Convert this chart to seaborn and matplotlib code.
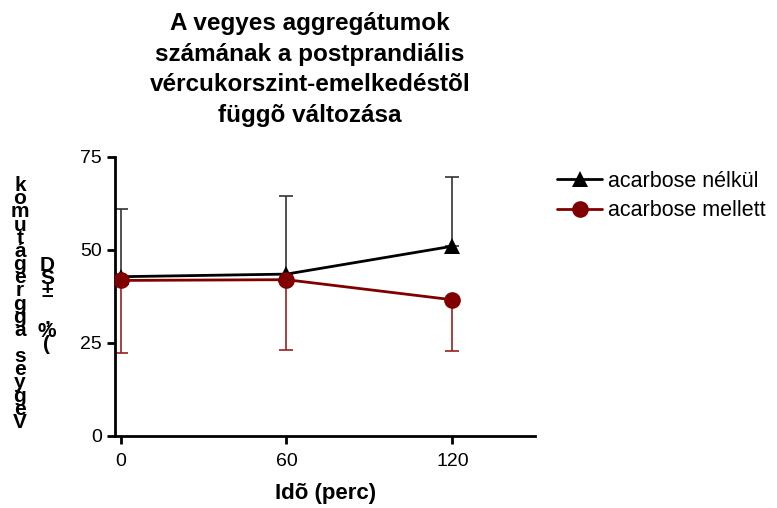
import numpy as np
import pandas as pd
import matplotlib
matplotlib.use("Agg")
import matplotlib.pyplot as plt
import seaborn as sns

sns.set_style("white")
plt.rcParams["font.family"] = ["Liberation Sans", "DejaVu Sans"]
plt.rcParams["text.color"] = "black"
plt.rcParams["axes.labelcolor"] = "black"
plt.rcParams["xtick.color"] = "black"
plt.rcParams["ytick.color"] = "black"

# data
times = [0, 60, 120]
groups = ["acarbose nélkül", "acarbose mellett"]
mean_without = [42.8, 43.5, 51.0]
sd_without = [18.2, 21.0, 18.5]
mean_with = [41.8, 42.0, 36.6]
sd_with = [19.4, 18.9, 13.7]
colors = ["#000000", "#800000"]
markers = ["^", "o"]

df = pd.DataFrame({
    "ido": times * 2,
    "ertek": mean_without + mean_with,
    "csoport": [groups[0]] * 3 + [groups[1]] * 3,
})

W, H = 777, 508
fig = plt.figure(figsize=(W / 100, H / 100), dpi=100)
ax = fig.add_axes([0.148, 0.142, 0.541, 0.549])

# one-sided SD bars: upper for the first group, lower for the second
ax.errorbar(times, mean_without, yerr=[np.zeros(3), sd_without], fmt="none",
            ecolor="#333333", elinewidth=1.2, capsize=5, capthick=1.2, zorder=1)
ax.errorbar(times, mean_with, yerr=[sd_with, np.zeros(3)], fmt="none",
            ecolor="#9a2020", elinewidth=1.2, capsize=5, capthick=1.2, zorder=1)

sns.lineplot(data=df, x="ido", y="ertek", hue="csoport", style="csoport",
             palette=colors, markers=markers, dashes=False, markersize=12,
             markeredgewidth=0, linewidth=2, ax=ax, zorder=3)

ax.set_xlim(-2, 150)
ax.set_ylim(0, 75)
ax.set_xticks(times)
ax.set_yticks([0, 25, 50, 75])
ax.tick_params(axis="both", labelsize=14, length=6, width=2, direction="out",
               bottom=True, left=True)
ax.tick_params(axis="x", pad=6)
for s in ["top", "right"]:
    ax.spines[s].set_visible(False)
for s in ["left", "bottom"]:
    ax.spines[s].set_linewidth(2)
    ax.spines[s].set_color("black")

ax.set_xlabel("Idõ (perc)", fontsize=16, fontweight="bold", labelpad=10)
ax.set_ylabel("")
fig.text(310 / W, 1 - 12 / H,
         "A vegyes aggregátumok\nszámának a postprandiális\nvércukorszint-emelkedéstõl\nfüggõ változása",
         ha="center", va="top", fontsize=17.5, fontweight="bold", linespacing=1.42)

leg = ax.legend(loc="upper left", bbox_to_anchor=(0.703, 0.685), bbox_transform=fig.transFigure,
                frameon=False, fontsize=15.5, handlelength=2.1, handletextpad=0.25,
                labelspacing=0.4, borderpad=0)

# stacked-character y label as it appears in the original
col1 = "\n".join(list("Vegyes aggregátumok")[::-1])
col2 = "\n".join(list("(%, ±SD")[::-1])
fig.text(20 / W, 1 - 304 / H, col1, ha="center", va="center", multialignment="center",
         fontsize=15, fontweight="bold", linespacing=0.61)
fig.text(47 / W, 1 - 305 / H, col2, ha="center", va="center", multialignment="center",
         fontsize=15, fontweight="bold", linespacing=0.61)

fig.savefig("out.png", dpi=100)
